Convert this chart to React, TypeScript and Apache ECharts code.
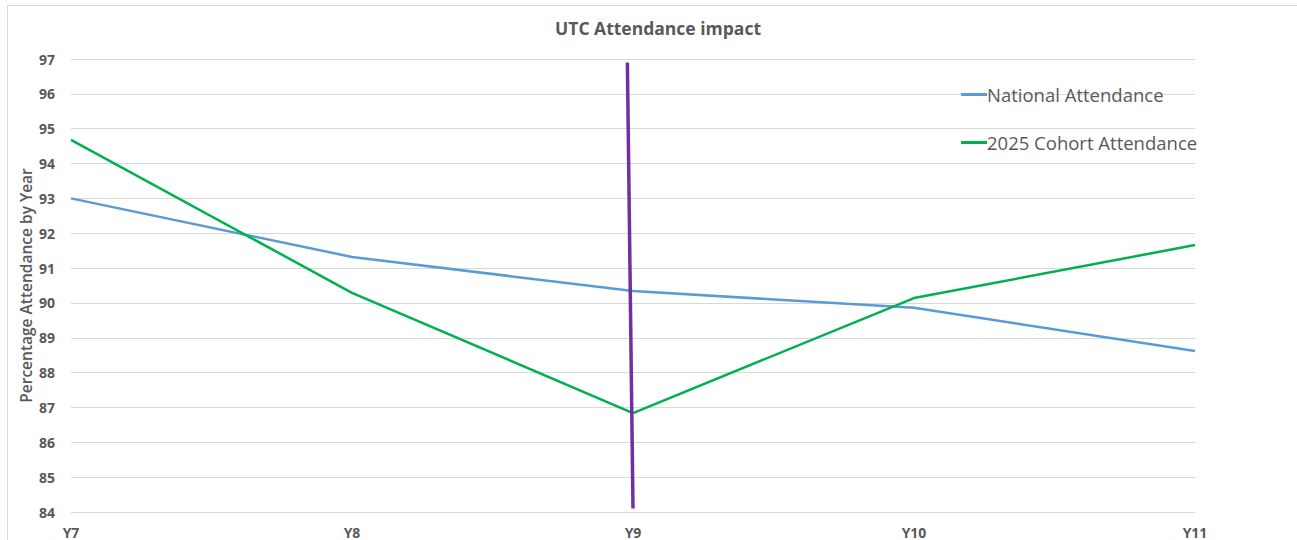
import React, { useEffect, useRef } from "react";
import * as echarts from "echarts";

const categories = ["Y7", "Y8", "Y9", "Y10", "Y11"];
const nationalAttendance = [93.0, 91.32, 90.34, 89.86, 88.62];
const cohortAttendance = [94.68, 90.29, 86.84, 90.14, 91.66];
const markerX = [1.98, 2.0];
const markerY = [96.9, 84.1];

export default function App() {
  const ref = useRef<HTMLDivElement>(null);
  useEffect(() => {
    const chart = echarts.init(ref.current!, null, { renderer: "svg" });
    const font = "'Open Sans', 'Noto Sans', sans-serif";
    chart.setOption({
      animation: false,
      backgroundColor: "#ffffff",
      title: {
        text: "UTC Attendance impact",
        left: 653,
        textAlign: "center",
        top: 14,
        textStyle: { fontFamily: font, fontSize: 17.5, fontWeight: "bold", color: "#595959" },
      },
      legend: {
        orient: "vertical",
        left: 956,
        top: 80,
        itemGap: 29,
        itemWidth: 26,
        itemHeight: 3,
        icon: "rect",
        textStyle: { fontFamily: font, fontSize: 18.5, color: "#595959", padding: [0, 0, 0, -5] },
        data: ["National Attendance", "2025 Cohort Attendance"],
      },
      graphic: [
        { type: "line", shape: { x1: 7, y1: 5.5, x2: 1297, y2: 5.5 }, style: { stroke: "#d9d9d9", lineWidth: 1 } },
        { type: "line", shape: { x1: 7.5, y1: 5, x2: 7.5, y2: 540 }, style: { stroke: "#d9d9d9", lineWidth: 1 } },
      ],
      grid: { left: 71, right: 102, top: 59, bottom: 28 },
      xAxis: {
        type: "value",
        min: 0,
        max: 4,
        interval: 1,
        axisLine: { show: false },
        axisTick: { show: false },
        splitLine: { show: false },
        axisLabel: {
          formatter: (v: number) => categories[v] ?? "",
          fontFamily: font,
          fontSize: 14,
          fontWeight: "bold",
          color: "#595959",
          margin: 13,
        },
      },
      yAxis: {
        type: "value",
        min: 84,
        max: 97,
        interval: 1,
        name: "Percentage Attendance by Year",
        nameLocation: "middle",
        nameGap: 37,
        nameMoveOverlap: false,
        nameTextStyle: { fontFamily: font, fontSize: 15.5, fontWeight: 600, color: "#595959" },
        axisLine: { show: false },
        axisTick: { show: false },
        splitLine: { lineStyle: { color: "#d9d9d9", width: 1 } },
        axisLabel: {
          fontFamily: font,
          fontSize: 14,
          fontWeight: "bold",
          color: "#595959",
          margin: 16,
        },
      },
      series: [
        {
          name: "National Attendance",
          type: "line",
          data: nationalAttendance.map((v, i) => [i, v]),
          showSymbol: false,
          symbol: "none",
          itemStyle: { color: "#5B9BD5" },
          lineStyle: { color: "#5B9BD5", width: 2.5 },
        },
        {
          name: "2025 Cohort Attendance",
          type: "line",
          data: cohortAttendance.map((v, i) => [i, v]),
          showSymbol: false,
          symbol: "none",
          itemStyle: { color: "#00B050" },
          lineStyle: { color: "#00B050", width: 2.5 },
        },
        {
          name: "Marker",
          type: "line",
          data: markerX.map((x, i) => [x, markerY[i]]),
          showSymbol: false,
          symbol: "none",
          itemStyle: { color: "#7030A0" },
          lineStyle: { color: "#7030A0", width: 3.5 },
        },
      ],
    });
    return () => chart.dispose();
  }, []);
  return (
    <div
      ref={ref}
      style={{ position: "absolute", left: 0, top: 0, width: 1297, height: 540 }}
    />
  );
}
